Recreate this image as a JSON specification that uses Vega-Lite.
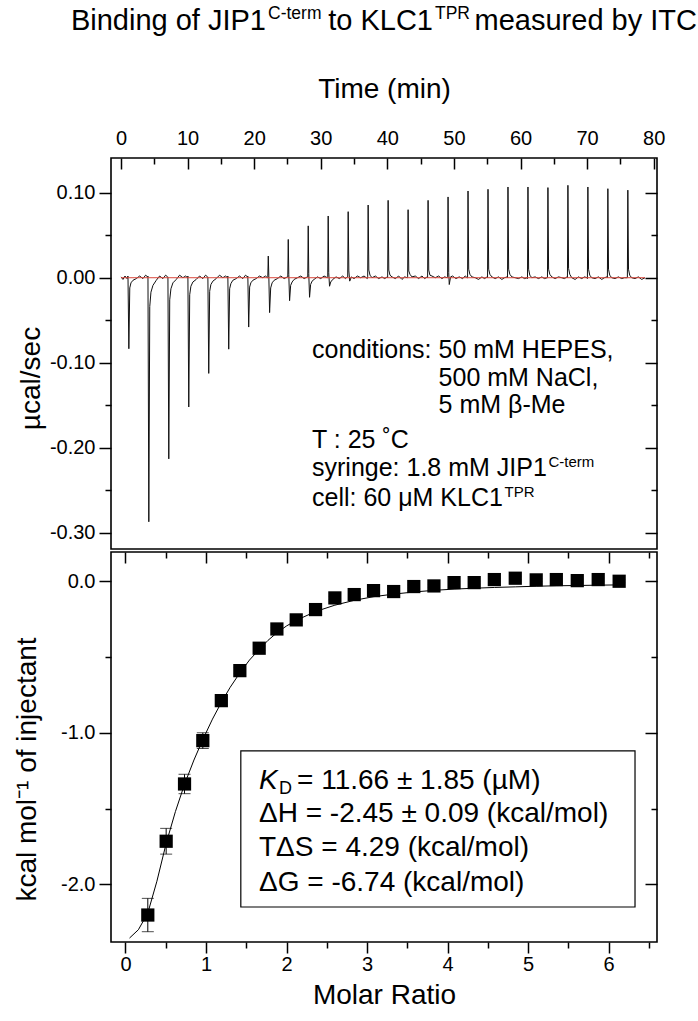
{
  "$schema": "https://vega.github.io/schema/vega-lite/v6.json",
  "padding": {"left": 12, "top": 4, "right": 0, "bottom": 0},
  "spacing": 0,
  "config": {
    "font": "Liberation Sans",
    "view": {"stroke": "#000", "strokeWidth": 1.6},
    "axis": {"domain": false, "grid": false, "labelFont": "Liberation Sans", "titleFont": "Liberation Sans", "labelColor": "#000", "titleColor": "#000", "tickColor": "#000", "labelFontSize": 20, "titleFontSize": 28, "titleFontWeight": "normal", "tickWidth": 1.5, "labelOverlap": false, "labelFlush": false, "labelBound": false},
    "text": {"font": "Liberation Sans", "color": "#000"}
  },
  "datasets": {
    "trace": [
      {"t":0,"q":0.001},{"t":0.3,"q":-0.002},{"t":0.6,"q":0.002},{"t":0.9,"q":-0.001},
      {"t":1.05,"q":0.002},{"t":1.18,"q":-0.0835},{"t":1.32,"q":-0.012},{"t":1.5,"q":-0.006},{"t":1.8,"q":-0.003},{"t":2.3,"q":-0.001},{"t":2.8,"q":0.002},{"t":3.3,"q":-0.001},{"t":3.7,"q":0.003},{"t":4.0,"q":0.001},
      {"t":4.05,"q":0.002},{"t":4.18,"q":-0.287},{"t":4.32,"q":-0.034},{"t":4.5,"q":-0.017},{"t":4.8,"q":-0.009},{"t":5.3,"q":-0.003},{"t":5.8,"q":0.002},{"t":6.3,"q":-0.001},{"t":6.7,"q":0.003},{"t":7.0,"q":0.001},
      {"t":7.05,"q":0.001},{"t":7.18,"q":-0.213},{"t":7.32,"q":-0.026},{"t":7.5,"q":-0.013},{"t":7.8,"q":-0.006},{"t":8.3,"q":-0.002},{"t":8.8,"q":0.003},{"t":9.3,"q":0.0},{"t":9.7,"q":0.002},{"t":10.0,"q":0.0},
      {"t":10.05,"q":0.002},{"t":10.18,"q":-0.152},{"t":10.32,"q":-0.02},{"t":10.5,"q":-0.01},{"t":10.8,"q":-0.005},{"t":11.3,"q":-0.002},{"t":11.8,"q":0.002},{"t":12.3,"q":-0.001},{"t":12.7,"q":0.003},{"t":13.0,"q":0.001},
      {"t":13.05,"q":0.001},{"t":13.18,"q":-0.1125},{"t":13.32,"q":-0.016},{"t":13.5,"q":-0.008},{"t":13.8,"q":-0.004},{"t":14.3,"q":-0.001},{"t":14.8,"q":0.003},{"t":15.3,"q":0.0},{"t":15.7,"q":0.002},{"t":16.0,"q":0.0},
      {"t":16.05,"q":0.002},{"t":16.18,"q":-0.084},{"t":16.32,"q":-0.013},{"t":16.5,"q":-0.007},{"t":16.8,"q":-0.003},{"t":17.3,"q":-0.001},{"t":17.8,"q":0.002},{"t":18.3,"q":-0.001},{"t":18.7,"q":0.003},{"t":19.0,"q":0.001},
      {"t":19.05,"q":0.002},{"t":19.18,"q":-0.058},{"t":19.32,"q":-0.011},{"t":19.5,"q":-0.006},{"t":19.8,"q":-0.003},{"t":20.3,"q":-0.001},{"t":20.8,"q":0.002},{"t":21.3,"q":0.0},{"t":21.7,"q":0.002},{"t":22.0,"q":0.0},
      {"t":22.05,"q":0.001},{"t":22.12,"q":0.0255},{"t":22.2,"q":0.003},{"t":22.32,"q":-0.041},{"t":22.48,"q":-0.012},{"t":22.7,"q":-0.006},{"t":23.0,"q":-0.003},{"t":23.5,"q":-0.001},{"t":24.0,"q":0.002},{"t":24.5,"q":-0.001},{"t":25.0,"q":0.001},
      {"t":25.05,"q":0.001},{"t":25.12,"q":0.045},{"t":25.2,"q":0.004},{"t":25.32,"q":-0.027},{"t":25.48,"q":-0.009},{"t":25.7,"q":-0.005},{"t":26.0,"q":-0.002},{"t":26.5,"q":0.0},{"t":27.0,"q":0.002},{"t":27.5,"q":-0.001},{"t":28.0,"q":0.001},
      {"t":28.05,"q":0.001},{"t":28.12,"q":0.061},{"t":28.2,"q":0.005},{"t":28.32,"q":-0.023},{"t":28.48,"q":-0.008},{"t":28.7,"q":-0.004},{"t":29.0,"q":-0.002},{"t":29.5,"q":0.001},{"t":30.0,"q":-0.001},{"t":30.5,"q":0.002},{"t":31.0,"q":0.0},
      {"t":31.05,"q":0.001},{"t":31.12,"q":0.0726},{"t":31.2,"q":0.006},{"t":31.32,"q":-0.01},{"t":31.5,"q":-0.005},{"t":31.8,"q":-0.002},{"t":32.3,"q":0.001},{"t":32.8,"q":-0.001},{"t":33.3,"q":0.002},{"t":33.7,"q":-0.001},{"t":34.0,"q":0.001},
      {"t":34.05,"q":0.001},{"t":34.12,"q":0.0777},{"t":34.22,"q":0.008},{"t":34.35,"q":-0.004},{"t":34.6,"q":0.001},{"t":35.0,"q":-0.001},{"t":35.5,"q":0.002},{"t":36.0,"q":0.0},{"t":36.5,"q":0.002},{"t":37.0,"q":-0.001},
      {"t":37.05,"q":0.001},{"t":37.12,"q":0.0855},{"t":37.22,"q":0.009},{"t":37.4,"q":0.003},{"t":37.7,"q":0.0},{"t":38.2,"q":0.002},{"t":38.7,"q":-0.001},{"t":39.2,"q":0.001},{"t":39.6,"q":-0.001},{"t":40.0,"q":0.001},
      {"t":40.05,"q":0.0},{"t":40.12,"q":0.091},{"t":40.22,"q":0.009},{"t":40.4,"q":0.003},{"t":40.7,"q":0.001},{"t":41.2,"q":-0.001},{"t":41.7,"q":0.002},{"t":42.2,"q":-0.002},{"t":42.6,"q":0.001},{"t":43.0,"q":0.0},
      {"t":43.05,"q":0.001},{"t":43.12,"q":0.08},{"t":43.22,"q":0.008},{"t":43.4,"q":0.004},{"t":43.7,"q":0.001},{"t":44.2,"q":0.002},{"t":44.7,"q":-0.001},{"t":45.2,"q":0.002},{"t":45.6,"q":-0.001},{"t":46.0,"q":0.001},
      {"t":46.05,"q":0.0},{"t":46.12,"q":0.091},{"t":46.22,"q":0.009},{"t":46.4,"q":0.003},{"t":46.7,"q":0.002},{"t":47.2,"q":0.0},{"t":47.7,"q":0.002},{"t":48.2,"q":-0.001},{"t":48.6,"q":0.001},{"t":49.0,"q":0.0},
      {"t":49.05,"q":0.001},{"t":49.12,"q":0.095},{"t":49.22,"q":0.006},{"t":49.3,"q":-0.008},{"t":49.5,"q":0.001},{"t":49.8,"q":0.002},{"t":50.3,"q":-0.001},{"t":50.8,"q":0.001},{"t":51.3,"q":-0.001},{"t":51.7,"q":0.002},{"t":52.0,"q":0.0},
      {"t":52.05,"q":0.0},{"t":52.12,"q":0.102},{"t":52.22,"q":0.01},{"t":52.4,"q":0.004},{"t":52.7,"q":0.001},{"t":53.2,"q":0.0},{"t":53.7,"q":-0.002},{"t":54.2,"q":0.001},{"t":54.6,"q":-0.001},{"t":55.0,"q":0.001},
      {"t":55.05,"q":0.0},{"t":55.12,"q":0.104},{"t":55.22,"q":0.01},{"t":55.4,"q":0.004},{"t":55.7,"q":0.001},{"t":56.2,"q":-0.001},{"t":56.7,"q":0.001},{"t":57.2,"q":-0.002},{"t":57.6,"q":0.0},{"t":58.0,"q":0.001},
      {"t":58.05,"q":0.0},{"t":58.12,"q":0.1067},{"t":58.22,"q":0.01},{"t":58.4,"q":0.004},{"t":58.7,"q":0.001},{"t":59.2,"q":0.0},{"t":59.7,"q":-0.001},{"t":60.2,"q":0.001},{"t":60.6,"q":-0.001},{"t":61.0,"q":0.0},
      {"t":61.05,"q":-0.001},{"t":61.12,"q":0.1067},{"t":61.22,"q":0.01},{"t":61.4,"q":0.003},{"t":61.7,"q":0.0},{"t":62.2,"q":0.001},{"t":62.7,"q":-0.001},{"t":63.2,"q":0.001},{"t":63.6,"q":-0.001},{"t":64.0,"q":0.0},
      {"t":64.05,"q":0.0},{"t":64.12,"q":0.106},{"t":64.22,"q":0.01},{"t":64.4,"q":0.004},{"t":64.7,"q":0.001},{"t":65.2,"q":-0.001},{"t":65.7,"q":0.001},{"t":66.2,"q":0.0},{"t":66.6,"q":-0.001},{"t":67.0,"q":0.001},
      {"t":67.05,"q":0.0},{"t":67.12,"q":0.1087},{"t":67.22,"q":0.011},{"t":67.4,"q":0.004},{"t":67.7,"q":0.0},{"t":68.2,"q":-0.002},{"t":68.7,"q":0.001},{"t":69.2,"q":-0.001},{"t":69.6,"q":0.001},{"t":70.0,"q":0.0},
      {"t":70.05,"q":-0.001},{"t":70.12,"q":0.1067},{"t":70.22,"q":0.01},{"t":70.4,"q":0.003},{"t":70.7,"q":0.0},{"t":71.2,"q":-0.001},{"t":71.7,"q":0.001},{"t":72.2,"q":-0.002},{"t":72.6,"q":0.0},{"t":73.0,"q":0.001},
      {"t":73.05,"q":0.0},{"t":73.12,"q":0.1047},{"t":73.22,"q":0.01},{"t":73.4,"q":0.003},{"t":73.7,"q":0.0},{"t":74.2,"q":-0.001},{"t":74.7,"q":0.001},{"t":75.2,"q":-0.001},{"t":75.6,"q":0.0},{"t":76.0,"q":0.0},
      {"t":76.05,"q":0.0},{"t":76.12,"q":0.103},{"t":76.22,"q":0.01},{"t":76.4,"q":0.003},{"t":76.7,"q":0.0},{"t":77.2,"q":-0.001},{"t":77.7,"q":0.001},{"t":78.2,"q":-0.002},{"t":78.7,"q":0.0}
    ],
    "base": [{"t": 0, "q": 0}, {"t": 78.7, "q": 0}],
    "pts": [
      {"r":0.277,"h":-2.203,"lo":-2.313,"hi":-2.093},
      {"r":0.505,"h":-1.716,"lo":-1.801,"hi":-1.631},
      {"r":0.733,"h":-1.338,"lo":-1.402,"hi":-1.274},
      {"r":0.96,"h":-1.052,"lo":-1.104,"hi":-1.0},
      {"r":1.19,"h":-0.788,"lo":-0.818,"hi":-0.758},
      {"r":1.42,"h":-0.59,"lo":-0.61,"hi":-0.57},
      {"r":1.66,"h":-0.442,"lo":-0.457,"hi":-0.427},
      {"r":1.88,"h":-0.315,"lo":-0.325,"hi":-0.305},
      {"r":2.12,"h":-0.255,"lo":-0.265,"hi":-0.245},
      {"r":2.36,"h":-0.187,"lo":-0.197,"hi":-0.177},
      {"r":2.6,"h":-0.11,"lo":-0.12,"hi":-0.1},
      {"r":2.84,"h":-0.088,"lo":-0.098,"hi":-0.078},
      {"r":3.08,"h":-0.062,"lo":-0.072,"hi":-0.052},
      {"r":3.33,"h":-0.068,"lo":-0.078,"hi":-0.058},
      {"r":3.58,"h":-0.035,"lo":-0.045,"hi":-0.025},
      {"r":3.83,"h":-0.031,"lo":-0.041,"hi":-0.021},
      {"r":4.08,"h":-0.009,"lo":-0.019,"hi":0.001},
      {"r":4.33,"h":-0.009,"lo":-0.019,"hi":0.001},
      {"r":4.58,"h":0.011,"lo":0.001,"hi":0.021},
      {"r":4.84,"h":0.02,"lo":0.01,"hi":0.03},
      {"r":5.1,"h":0.009,"lo":-0.001,"hi":0.019},
      {"r":5.35,"h":0.011,"lo":0.001,"hi":0.021},
      {"r":5.61,"h":0.004,"lo":-0.006,"hi":0.014},
      {"r":5.87,"h":0.011,"lo":0.001,"hi":0.021},
      {"r":6.13,"h":0.0,"lo":-0.01,"hi":0.01}
    ],
    "fit": [
      {"r":0.05,"f":-2.355},{"r":0.16,"f":-2.3},{"r":0.277,"f":-2.19},{"r":0.39,"f":-1.98},{"r":0.505,"f":-1.73},
      {"r":0.62,"f":-1.52},{"r":0.733,"f":-1.34},{"r":0.85,"f":-1.18},{"r":0.96,"f":-1.045},{"r":1.08,"f":-0.91},
      {"r":1.19,"f":-0.8},{"r":1.3,"f":-0.7},{"r":1.42,"f":-0.605},{"r":1.54,"f":-0.52},{"r":1.66,"f":-0.45},
      {"r":1.77,"f":-0.39},{"r":1.88,"f":-0.34},{"r":2.0,"f":-0.295},{"r":2.12,"f":-0.258},{"r":2.36,"f":-0.2},
      {"r":2.6,"f":-0.158},{"r":2.84,"f":-0.126},{"r":3.08,"f":-0.102},{"r":3.33,"f":-0.085},{"r":3.58,"f":-0.071},
      {"r":3.83,"f":-0.06},{"r":4.08,"f":-0.052},{"r":4.33,"f":-0.046},{"r":4.58,"f":-0.041},{"r":4.84,"f":-0.037},
      {"r":5.1,"f":-0.033},{"r":5.35,"f":-0.03},{"r":5.61,"f":-0.028},{"r":5.87,"f":-0.026},{"r":6.13,"f":-0.024}
    ]
  },
  "vconcat": [
    {
      "width": 546,
      "height": 391,
      "layer": [
        {
          "data": {"name": "trace"},
          "mark": {"type": "line", "color": "#111", "strokeWidth": 1},
          "encoding": {
            "x": {"field": "t", "type": "quantitative", "scale": {"domain": [-1.5, 80.5], "nice": false, "zero": false},
              "axis": {"orient": "top", "title": "Time (min)", "values": [0,5,10,15,20,25,30,35,40,45,50,55,60,65,70,75,80],
                "labelExpr": "datum.value % 10 === 0 ? datum.label : ''",
                "tickSize": {"condition": {"test": "datum.value % 10 === 0", "value": -11}, "value": -6},
                "labelPadding": 21, "titleX": 273, "titleY": -55}},
            "y": {"field": "q", "type": "quantitative", "scale": {"domain": [-0.319, 0.1408], "nice": false, "zero": false},
              "axis": {"orient": "left", "title": "µcal/sec", "values": [-0.3,-0.25,-0.2,-0.15,-0.1,-0.05,0,0.05,0.1],
                "labelExpr": "abs(round(datum.value*100)) % 10 === 0 ? replace(format(datum.value, '.2f'), '\u2212', '-') : ''",
                "tickSize": {"condition": {"test": "abs(round(datum.value*100)) % 10 === 0", "value": 12}, "value": 6},
                "labelPadding": 4, "titleX": -66, "titleY": 220}}
          }
        },
        {
          "data": {"name": "base"},
          "mark": {"type": "line", "color": "#d9473b", "strokeWidth": 1},
          "encoding": {
            "x": {"field": "t", "type": "quantitative", "axis": null},
            "y": {"field": "q", "type": "quantitative",
              "axis": {"orient": "right", "labels": false, "title": null, "values": [-0.3,-0.25,-0.2,-0.15,-0.1,-0.05,0,0.05,0.1],
                "tickSize": {"condition": {"test": "abs(round(datum.value*100)) % 10 === 0", "value": -12}, "value": -6}}}
          }
        },
        {"data": {"values": [{"s": "Binding of JIP1"}]}, "mark": {"type": "text", "align": "right", "baseline": "alphabetic", "fontSize": 29},
          "encoding": {"x": {"datum": 21.78, "type": "quantitative", "axis": null}, "y": {"datum": 0.2914, "type": "quantitative", "axis": null}, "text": {"field": "s"}}},
        {"data": {"values": [{"s": "C-term"}]}, "mark": {"type": "text", "align": "left", "baseline": "alphabetic", "fontSize": 17.5},
          "encoding": {"x": {"datum": 22.08, "type": "quantitative", "axis": null}, "y": {"datum": 0.3043, "type": "quantitative", "axis": null}, "text": {"field": "s"}}},
        {"data": {"values": [{"s": "to KLC1"}]}, "mark": {"type": "text", "align": "right", "baseline": "alphabetic", "fontSize": 29},
          "encoding": {"x": {"datum": 46.86, "type": "quantitative", "axis": null}, "y": {"datum": 0.2914, "type": "quantitative", "axis": null}, "text": {"field": "s"}}},
        {"data": {"values": [{"s": "TPR"}]}, "mark": {"type": "text", "align": "left", "baseline": "alphabetic", "fontSize": 17.5},
          "encoding": {"x": {"datum": 47.16, "type": "quantitative", "axis": null}, "y": {"datum": 0.3043, "type": "quantitative", "axis": null}, "text": {"field": "s"}}},
        {"data": {"values": [{"s": "measured by ITC"}]}, "mark": {"type": "text", "align": "left", "baseline": "alphabetic", "fontSize": 29},
          "encoding": {"x": {"datum": 53.1, "type": "quantitative", "axis": null}, "y": {"datum": 0.2914, "type": "quantitative", "axis": null}, "text": {"field": "s"}}},
        {"data": {"values": [{"s": "conditions: 50 mM HEPES,"}]}, "mark": {"type": "text", "align": "left", "baseline": "alphabetic", "fontSize": 25},
          "encoding": {"x": {"datum": 28.69, "type": "quantitative", "axis": null}, "y": {"datum": -0.0941, "type": "quantitative", "axis": null}, "text": {"field": "s"}}},
        {"data": {"values": [{"s": "500 mM NaCl,"}]}, "mark": {"type": "text", "align": "left", "baseline": "alphabetic", "fontSize": 25},
          "encoding": {"x": {"datum": 47.7, "type": "quantitative", "axis": null}, "y": {"datum": -0.1274, "type": "quantitative", "axis": null}, "text": {"field": "s"}}},
        {"data": {"values": [{"s": "5 mM β-Me"}]}, "mark": {"type": "text", "align": "left", "baseline": "alphabetic", "fontSize": 25},
          "encoding": {"x": {"datum": 47.7, "type": "quantitative", "axis": null}, "y": {"datum": -0.1588, "type": "quantitative", "axis": null}, "text": {"field": "s"}}},
        {"data": {"values": [{"s": "T : 25 ˚C"}]}, "mark": {"type": "text", "align": "left", "baseline": "alphabetic", "fontSize": 25},
          "encoding": {"x": {"datum": 28.69, "type": "quantitative", "axis": null}, "y": {"datum": -0.2, "type": "quantitative", "axis": null}, "text": {"field": "s"}}},
        {"data": {"values": [{"s": "syringe: 1.8 mM JIP1"}]}, "mark": {"type": "text", "align": "left", "baseline": "alphabetic", "fontSize": 25},
          "encoding": {"x": {"datum": 28.69, "type": "quantitative", "axis": null}, "y": {"datum": -0.2333, "type": "quantitative", "axis": null}, "text": {"field": "s"}}},
        {"data": {"values": [{"s": "C-term"}]}, "mark": {"type": "text", "align": "left", "baseline": "alphabetic", "fontSize": 15},
          "encoding": {"x": {"datum": 64.2, "type": "quantitative", "axis": null}, "y": {"datum": -0.2227, "type": "quantitative", "axis": null}, "text": {"field": "s"}}},
        {"data": {"values": [{"s": "cell: 60 μM KLC1"}]}, "mark": {"type": "text", "align": "left", "baseline": "alphabetic", "fontSize": 25},
          "encoding": {"x": {"datum": 28.69, "type": "quantitative", "axis": null}, "y": {"datum": -0.2686, "type": "quantitative", "axis": null}, "text": {"field": "s"}}},
        {"data": {"values": [{"s": "TPR"}]}, "mark": {"type": "text", "align": "left", "baseline": "alphabetic", "fontSize": 15},
          "encoding": {"x": {"datum": 57.6, "type": "quantitative", "axis": null}, "y": {"datum": -0.258, "type": "quantitative", "axis": null}, "text": {"field": "s"}}}
      ],
      "resolve": {"axis": {"x": "independent", "y": "independent"}}
    },
    {
      "width": 546,
      "height": 390,
      "layer": [
        {"data": {"values": [{}]}, "mark": {"type": "rect", "fill": "#fff", "stroke": "#000", "strokeWidth": 1.2},
          "encoding": {
            "x": {"datum": 1.432, "type": "quantitative", "scale": {"domain": [-0.18, 6.6], "nice": false, "zero": false}, "axis": null},
            "x2": {"datum": 6.327},
            "y": {"datum": -1.12, "type": "quantitative", "scale": {"domain": [-2.381, 0.193], "nice": false, "zero": false}, "axis": null},
            "y2": {"datum": -2.15}
          }},
        {"data": {"name": "fit"}, "mark": {"type": "line", "color": "#000", "strokeWidth": 1},
          "encoding": {
            "x": {"field": "r", "type": "quantitative",
              "axis": {"orient": "top", "labels": false, "title": null, "values": [0,0.5,1,1.5,2,2.5,3,3.5,4,4.5,5,5.5,6,6.5],
                "tickSize": {"condition": {"test": "datum.value % 1 === 0", "value": -11}, "value": -6}}},
            "y": {"field": "f", "type": "quantitative",
              "axis": {"orient": "right", "labels": false, "title": null, "values": [-2,-1.5,-1,-0.5,0],
                "tickSize": {"condition": {"test": "datum.value % 1 === 0", "value": -12}, "value": -6}}}
          }},
        {"data": {"name": "pts"}, "mark": {"type": "rule", "color": "#000", "strokeWidth": 1},
          "encoding": {"x": {"field": "r", "type": "quantitative", "axis": null}, "y": {"field": "lo", "type": "quantitative", "axis": null}, "y2": {"field": "hi"}}},
        {"data": {"name": "pts"}, "mark": {"type": "tick", "orient": "horizontal", "size": 12, "thickness": 1, "color": "#000"},
          "encoding": {"x": {"field": "r", "type": "quantitative", "axis": null}, "y": {"field": "lo", "type": "quantitative", "axis": null}}},
        {"data": {"name": "pts"}, "mark": {"type": "tick", "orient": "horizontal", "size": 12, "thickness": 1, "color": "#000"},
          "encoding": {"x": {"field": "r", "type": "quantitative", "axis": null}, "y": {"field": "hi", "type": "quantitative", "axis": null}}},
        {"data": {"name": "pts"}, "mark": {"type": "point", "shape": "square", "filled": true, "size": 175, "color": "#000", "opacity": 1},
          "encoding": {
            "x": {"field": "r", "type": "quantitative",
              "axis": {"orient": "bottom", "title": "Molar Ratio", "values": [0,0.5,1,1.5,2,2.5,3,3.5,4,4.5,5,5.5,6,6.5],
                "labelExpr": "datum.value % 1 === 0 ? format(datum.value, 'd') : ''",
                "tickSize": {"condition": {"test": "datum.value % 1 === 0", "value": 11}, "value": 6},
                "labelPadding": 1, "titleX": 273, "titleY": 39}},
            "y": {"field": "h", "type": "quantitative",
              "axis": {"orient": "left", "title": "kcal mol⁻¹ of injectant", "values": [-2,-1.5,-1,-0.5,0],
                "labelExpr": "datum.value % 1 === 0 ? replace(format(datum.value, '.1f'), '\u2212', '-') : ''",
                "tickSize": {"condition": {"test": "datum.value % 1 === 0", "value": 12}, "value": 6},
                "labelPadding": 4, "titleX": -70, "titleY": 217}}
          }},
        {"data": {"values": [{"s": "K"}]}, "mark": {"type": "text", "align": "left", "baseline": "alphabetic", "fontSize": 28, "fontStyle": "italic"},
          "encoding": {"x": {"datum": 1.658, "type": "quantitative", "axis": null}, "y": {"datum": -1.372, "type": "quantitative", "axis": null}, "text": {"field": "s"}}},
        {"data": {"values": [{"s": "D"}]}, "mark": {"type": "text", "align": "left", "baseline": "alphabetic", "fontSize": 18},
          "encoding": {"x": {"datum": 1.906, "type": "quantitative", "axis": null}, "y": {"datum": -1.405, "type": "quantitative", "axis": null}, "text": {"field": "s"}}},
        {"data": {"values": [{"s": "= 11.66 ± 1.85 (µM)"}]}, "mark": {"type": "text", "align": "left", "baseline": "alphabetic", "fontSize": 28},
          "encoding": {"x": {"datum": 2.13, "type": "quantitative", "axis": null}, "y": {"datum": -1.372, "type": "quantitative", "axis": null}, "text": {"field": "s"}}},
        {"data": {"values": [{"s": "ΔH = -2.45 ± 0.09 (kcal/mol)"}]}, "mark": {"type": "text", "align": "left", "baseline": "alphabetic", "fontSize": 28},
          "encoding": {"x": {"datum": 1.658, "type": "quantitative", "axis": null}, "y": {"datum": -1.59, "type": "quantitative", "axis": null}, "text": {"field": "s"}}},
        {"data": {"values": [{"s": "TΔS = 4.29 (kcal/mol)"}]}, "mark": {"type": "text", "align": "left", "baseline": "alphabetic", "fontSize": 28},
          "encoding": {"x": {"datum": 1.658, "type": "quantitative", "axis": null}, "y": {"datum": -1.814, "type": "quantitative", "axis": null}, "text": {"field": "s"}}},
        {"data": {"values": [{"s": "ΔG = -6.74 (kcal/mol)"}]}, "mark": {"type": "text", "align": "left", "baseline": "alphabetic", "fontSize": 28},
          "encoding": {"x": {"datum": 1.658, "type": "quantitative", "axis": null}, "y": {"datum": -2.045, "type": "quantitative", "axis": null}, "text": {"field": "s"}}}
      ],
      "resolve": {"axis": {"x": "independent", "y": "independent"}}
    }
  ]
}
